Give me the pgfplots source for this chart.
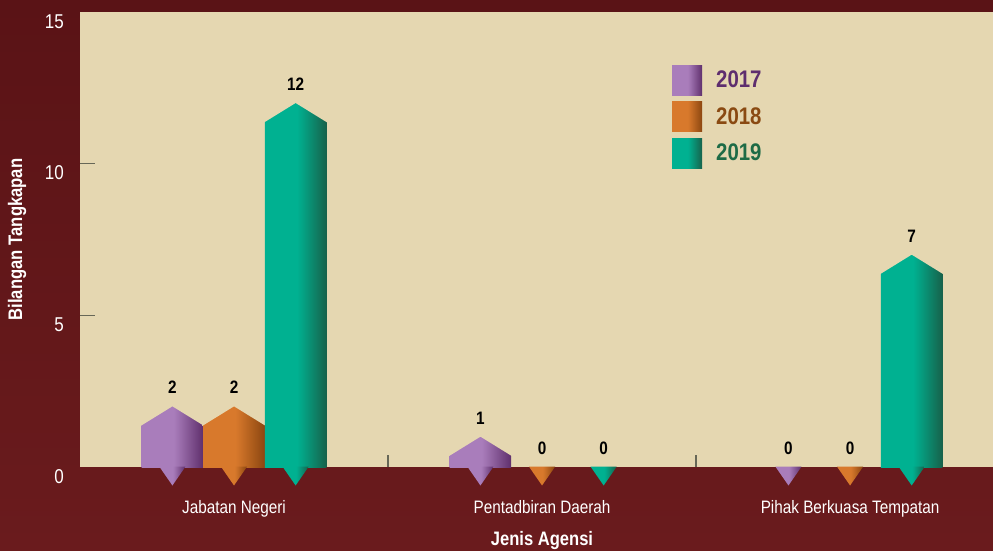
\documentclass[border=0pt]{standalone}
\usepackage{pgfplots}
\pgfplotsset{compat=1.18}
\usepackage{pgfplotstable}
\usepackage{fontspec}
\setmainfont{Liberation Sans}
\newfontfamily\cond{Liberation Sans}[FakeStretch=0.85]

\definecolor{bgtop}{HTML}{5A1316}
\definecolor{bgbot}{HTML}{6A1B1D}
\definecolor{beige}{HTML}{E5D7B1}
\definecolor{tickgray}{HTML}{676757}
\definecolor{pL}{HTML}{A97DBB}
\definecolor{pD}{HTML}{5F2F6C}
\definecolor{oL}{HTML}{D8792C}
\definecolor{oD}{HTML}{8B4610}
\definecolor{tL}{HTML}{00B191}
\definecolor{tD}{HTML}{17614A}
\definecolor{pT}{HTML}{5E2D6E}
\definecolor{oT}{HTML}{8A4A12}
\definecolor{tT}{HTML}{1E6B46}

\pgfdeclarehorizontalshading{shP}{100bp}{color(0bp)=(pL); color(25bp)=(pL); color(51bp)=(pL); color(55bp)=(pL!85!pD); color(75bp)=(pD); color(100bp)=(pD)}
\pgfdeclarehorizontalshading{shO}{100bp}{color(0bp)=(oL); color(25bp)=(oL); color(51bp)=(oL); color(55bp)=(oL!85!oD); color(75bp)=(oD); color(100bp)=(oD)}
\pgfdeclarehorizontalshading{shT}{100bp}{color(0bp)=(tL); color(25bp)=(tL); color(51bp)=(tL); color(55bp)=(tL!85!tD); color(75bp)=(tD); color(100bp)=(tD)}

\pgfdeclareplotmark{roofmask}{%
  \pgfpathmoveto{\pgfqpoint{-31.9pt}{-19.68pt}}%
  \pgfpathlineto{\pgfqpoint{0pt}{0pt}}%
  \pgfpathlineto{\pgfqpoint{31.9pt}{-19.68pt}}%
  \pgfpathlineto{\pgfqpoint{31.9pt}{1pt}}%
  \pgfpathlineto{\pgfqpoint{-31.9pt}{1pt}}%
  \pgfpathclose
  \pgfsetfillcolor{beige}%
  \pgfusepath{fill}%
}
\newcommand\makedrop[2]{%
\pgfdeclareplotmark{#1}{%
  \pgfpathmoveto{\pgfqpoint{-13pt}{0.3pt}}%
  \pgfpathlineto{\pgfqpoint{13pt}{0.3pt}}%
  \pgfpathlineto{\pgfqpoint{0pt}{-18.5pt}}%
  \pgfpathclose
  \pgfshadepath{#2}{0}%
  \pgfusepath{}%
}}
\makedrop{dropP}{shP}
\makedrop{dropO}{shO}
\makedrop{dropT}{shT}

\pgfplotstableread{
x v17 v18 v19
0 2 2 12
1 1 0 0
2 0 0 7
}\agensi

% one bar: #1 column, #2 signed shift, #3 lo, #4 hi, #5 shading
\newcommand\onebar[5]{%
  \addplot[ybar, bar width=0.2, bar shift=0, draw=none, shade, shading=#5,
    nodes near coords, forget plot, restrict x to domain=#3:#4]
    table[x expr=\thisrow{x}#2, y=#1] {\agensi};
  \addplot[only marks, mark=roofmask, forget plot,
    restrict x to domain=#3:#4, restrict y to domain=0.5:100]
    table[x expr=\thisrow{x}#2, y=#1] {\agensi};
}

\begin{document}
\begin{tikzpicture}
\useasboundingbox (0,0) rectangle (993pt,550pt);
\shade[top color=bgtop, bottom color=bgbot] (0,0) rectangle (993pt,550pt);
\begin{axis}[
  at={(80pt,83pt)}, anchor=south west, scale only axis,
  width=913pt, height=455pt,
  xmin=-0.5, xmax=2.464, ymin=0, ymax=15,
  clip=false, clip marker paths=true,
  axis background/.style={fill=beige},
  axis line style={draw=none},
  /pgf/number format/assume math mode=true,
  xtick={0,1,2},
  xticklabels={Jabatan Negeri,Pentadbiran Daerah,Pihak Berkuasa Tempatan},
  ytick={0,5,10,15},
  major tick length=0pt,
  extra x ticks={0.5,1.5}, extra x tick labels={},
  extra x tick style={major tick length=12pt},
  extra y ticks={5,10}, extra y tick labels={},
  extra y tick style={major tick length=15pt},
  tick align=inside, xtick pos=bottom, ytick pos=left,
  tick style={draw=tickgray, line width=1.6pt},
  xticklabel style={anchor=base, yshift=-46pt, inner sep=0pt, text=white, font=\cond\fontsize{18}{20}\selectfont},
  yticklabel style={anchor=base east, xshift=-16pt, yshift=-16pt, inner sep=0pt, text=white, font=\cond\fontsize{20}{24}\selectfont},
  ylabel={Bilangan Tangkapan},
  every axis y label/.style={at={(axis description cs:-0.069,0.5)}, rotate=90, anchor=center, text=white, font=\cond\bfseries\fontsize{19.6}{22}\selectfont},
  xlabel={Jenis Agensi},
  every axis x label/.style={at={(axis description cs:0.506,-0.1736)}, anchor=base, text=white, font=\cond\bfseries\fontsize{19.5}{22}\selectfont},
  every node near coord/.append style={font=\cond\bfseries\fontsize{18}{20}\selectfont, text=black, anchor=base, yshift=12.5pt, inner sep=0pt},
  legend style={at={(axis description cs:0.6484,0.8835)}, anchor=north west, draw=none, fill=none, inner sep=0pt, row sep=6.5pt, column sep=14pt, font=\cond\bfseries\fontsize{24}{28}\selectfont, nodes={inner sep=0pt}},
  legend cell align=left,
]
\addlegendimage{legend image code/.code={\path[draw=none,shade,shading=shP] (0pt,-15pt) rectangle (30pt,15pt);}}
\addlegendentry{\textcolor{pT}{2017}}
\addlegendimage{legend image code/.code={\path[draw=none,shade,shading=shO] (0pt,-15pt) rectangle (30pt,15pt);}}
\addlegendentry{\textcolor{oT}{2018}}
\addlegendimage{legend image code/.code={\path[draw=none,shade,shading=shT] (0pt,-15pt) rectangle (30pt,15pt);}}
\addlegendentry{\textcolor{tT}{2019}}
% Jabatan Negeri
\onebar{v17}{-0.2}{-0.25}{-0.15}{shP}
\onebar{v18}{+0}{-0.05}{0.05}{shO}
\onebar{v19}{+0.2}{0.15}{0.25}{shT}
% Pentadbiran Daerah
\onebar{v17}{-0.2}{0.75}{0.85}{shP}
\onebar{v18}{+0}{0.95}{1.05}{shO}
\onebar{v19}{+0.2}{1.15}{1.25}{shT}
% Pihak Berkuasa Tempatan
\onebar{v17}{-0.2}{1.75}{1.85}{shP}
\onebar{v18}{+0}{1.95}{2.05}{shO}
\onebar{v19}{+0.2}{2.15}{2.25}{shT}
% drops under the axis
\addplot[only marks, mark=dropP, forget plot] table[x expr=\thisrow{x}-0.2, y expr=0] {\agensi};
\addplot[only marks, mark=dropO, forget plot] table[x=x, y expr=0] {\agensi};
\addplot[only marks, mark=dropT, forget plot] table[x expr=\thisrow{x}+0.2, y expr=0] {\agensi};
\end{axis}
\end{tikzpicture}
\end{document}
